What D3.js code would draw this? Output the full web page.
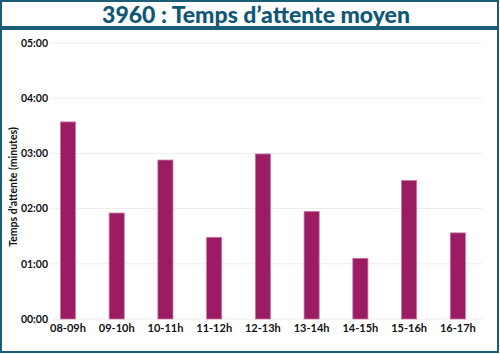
<!DOCTYPE html>
<html><head><meta charset="utf-8">
<script src="https://cdn.jsdelivr.net/npm/d3@7"></script>
<style>body{margin:0;background:#fff}svg{display:block}</style>
</head><body>
<svg id="c" width="500" height="354"></svg>
<script>
const title = "3960 : Temps d\u2019attente moyen";
const yTitle = "Temps d'attente (minutes)";
const categories = ["08-09h","09-10h","10-11h","11-12h","12-13h","13-14h","14-15h","15-16h","16-17h"];
const values = [3.57, 1.92, 2.88, 1.48, 2.99, 1.95, 1.10, 2.51, 1.56]; // minutes
const tickValues = [0,1,2,3,4,5];
const tickLabels = ["00:00","01:00","02:00","03:00","04:00","05:00"];

const svg = d3.select("#c");
const frame = "#1b5c76";
svg.append("rect").attr("x",1).attr("y",1).attr("width",497).attr("height",26)
  .attr("fill","#fff").attr("stroke",frame).attr("stroke-width",2);
svg.append("rect").attr("x",1).attr("y",29).attr("width",497).attr("height",323)
  .attr("fill","#fff").attr("stroke",frame).attr("stroke-width",2);

const tt = svg.append("text").attr("x",256).attr("y",23).attr("text-anchor","middle")
  .attr("font-family","Lato").attr("font-weight","900").attr("font-size",26)
  .attr("fill","#0f5775").text(title);
const w = tt.node().getComputedTextLength();
tt.attr("font-size", 26*308/w);

const x = d3.scaleBand().domain(categories).range([43.6,482.2]).paddingInner(0.69).paddingOuter(0.345);
const y = d3.scaleLinear().domain([0,5]).range([319,43]);

const font = "Lato";
svg.append("g").selectAll("line").data(tickValues).join("line")
  .attr("x1",52).attr("x2",482).attr("y1",d=>y(d)).attr("y2",d=>y(d))
  .attr("stroke","#ececec").attr("stroke-width",1);

const yAxis = svg.append("g").attr("transform","translate(52,0)")
  .call(d3.axisLeft(y).tickValues(tickValues).tickFormat((d,i)=>tickLabels[i]).tickSize(0).tickPadding(4));
yAxis.select(".domain").remove();
yAxis.selectAll("text").attr("font-family",font).attr("font-weight","bold").attr("font-size",10.5).attr("fill","#111");

svg.append("g").selectAll("rect").data(values).join("rect")
  .attr("x",(d,i)=>x(categories[i])).attr("width",x.bandwidth())
  .attr("y",d=>y(d)).attr("height",d=>y(0)-y(d))
  .attr("fill","#9b1c63").attr("stroke","#c77aa6").attr("stroke-width",0.8);

const xAxis = svg.append("g").attr("transform","translate(0,319)")
  .call(d3.axisBottom(x).tickSize(0).tickPadding(5));
xAxis.select(".domain").remove();
xAxis.selectAll("text").attr("font-family",font).attr("font-weight","bold").attr("font-size",11).attr("fill","#111");

const yt = svg.append("text").attr("transform","translate(17,187) rotate(-90)").attr("text-anchor","middle")
  .attr("font-family",font).attr("font-weight","bold").attr("font-size",11.5).attr("fill","#111").text(yTitle);
const yw = yt.node().getComputedTextLength();
yt.attr("font-size", 11.5*120/yw);
</script>
</body></html>
